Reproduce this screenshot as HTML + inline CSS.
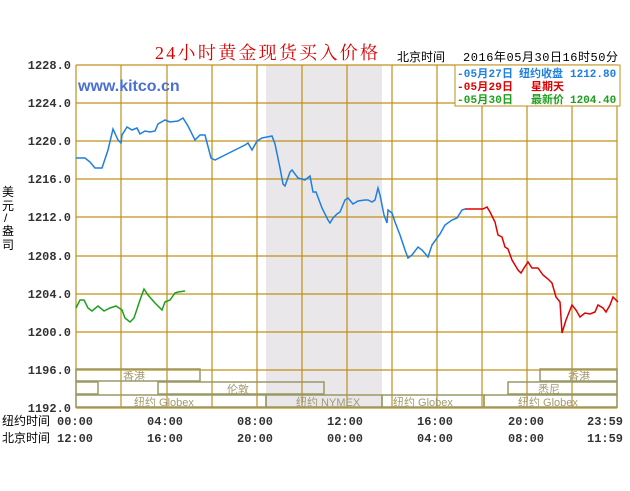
<!DOCTYPE html>
<html><head><meta charset="utf-8"><style>
body{margin:0;background:#fff;}
svg text{font-family:"Liberation Mono","Noto Sans CJK SC",monospace;}
svg text.s{font-family:"Liberation Sans","Noto Sans CJK SC",sans-serif;}
svg text.r{font-family:"Liberation Serif","Noto Serif CJK SC",serif;}
</style></head><body>
<svg width="630" height="486" xmlns="http://www.w3.org/2000/svg">
<rect width="630" height="486" fill="#fff"/>
<rect x="266" y="65" width="116" height="343" fill="#e9e7ea"/>
<g stroke="#c0901a" stroke-width="1.2">
<line x1="76" y1="65" x2="617" y2="65"/><line x1="76" y1="103" x2="617" y2="103"/><line x1="76" y1="141" x2="617" y2="141"/><line x1="76" y1="179" x2="617" y2="179"/><line x1="76" y1="217" x2="617" y2="217"/><line x1="76" y1="256" x2="617" y2="256"/><line x1="76" y1="294" x2="617" y2="294"/><line x1="76" y1="332" x2="617" y2="332"/><line x1="76" y1="370" x2="617" y2="370"/><line x1="76" y1="408" x2="617" y2="408"/>
<line x1="76" y1="65" x2="76" y2="408"/><line x1="121" y1="65" x2="121" y2="408"/><line x1="167" y1="65" x2="167" y2="408"/><line x1="212" y1="65" x2="212" y2="408"/><line x1="257" y1="65" x2="257" y2="408"/><line x1="302" y1="65" x2="302" y2="408"/><line x1="347" y1="65" x2="347" y2="408"/><line x1="392" y1="65" x2="392" y2="408"/><line x1="437" y1="65" x2="437" y2="408"/><line x1="482" y1="65" x2="482" y2="408"/><line x1="527" y1="65" x2="527" y2="408"/><line x1="572" y1="65" x2="572" y2="408"/><line x1="617" y1="65" x2="617" y2="408"/>
</g>
<g fill="none" stroke="#999966" stroke-width="1.5">
<rect x="76" y="369" width="124" height="12"/>
<rect x="76" y="382" width="22" height="12"/>
<rect x="158" y="382" width="166" height="12"/>
<rect x="76" y="395" width="190" height="12"/>
<rect x="266" y="395" width="116" height="12"/>
<rect x="382" y="395" width="102" height="12"/>
<rect x="484" y="395" width="133" height="12"/>
<rect x="508" y="382" width="109" height="12"/>
<rect x="540" y="369" width="77" height="12"/>
</g>
<g font-size="11" fill="#a09a70">
<text class="s" x="123" y="380">香港</text><text class="s" x="227" y="393">伦敦</text><text class="s" x="134" y="406">纽约 Globex</text><text class="s" x="296" y="406">纽约 NYMEX</text><text class="s" x="393" y="406">纽约 Globex</text><text class="s" x="538" y="393">悉尼</text><text class="s" x="568" y="380">香港</text><text class="s" x="518" y="406">纽约 Globex</text>
</g>
<text class="s" x="78" y="91" font-weight="bold" font-size="16" fill="#4a6fd6">www.kitco.cn</text>
<polyline fill="none" stroke="#1e7fe0" stroke-width="1.5" points="76,158 85,158 90,162 95,168 102,168 108,150 113,129 118,140 121,143 122,135 127,127 132,130 137,128 140,134 145,131 150,132 155,131 158,124 165,120 170,122 178,121 183,118 188,126 195,140 200,135 205,135 211,158 215,160 225,155 235,150 245,145 248,143 252,150 257,141 262,138 267,137 272,136 275,144 280,168 283,184 285,186 290,172 292,170 298,178 305,180 310,176 313,192 316,192 322,208 328,220 330,223 333,218 337,214 340,212 345,200 348,198 353,204 358,201 365,200 368,200 372,202 375,200 378,188 380,195 384,215 387,223 388,210 392,213 395,222 400,235 405,250 408,258 412,255 418,247 422,250 428,257 432,245 440,234 445,225 452,220 457,218 462,210 465,209"/>
<polyline fill="none" stroke="#e00000" stroke-width="1.5" points="465,209 483,209 487,207 490,212 495,222 498,235 502,237 505,247 508,249 512,260 518,270 521,273 524,268 528,262 532,268 538,268 543,275 548,279 552,283 556,297 560,302 562,333 566,320 572,305 576,310 580,317 585,313 590,314 595,312 598,305 603,308 606,312 610,305 613,297 618,302"/>
<polyline fill="none" stroke="#1ea01e" stroke-width="1.5" points="76,308 80,300 84,300 88,308 92,311 98,306 104,311 110,308 116,306 122,310 125,318 130,322 134,318 140,300 144,289 148,295 155,303 162,310 165,302 170,300 175,293 178,292 185,291"/>
<g font-size="12" font-weight="bold" fill="#333" text-anchor="end">
<text x="71" y="69">1228.0</text><text x="71" y="107">1224.0</text><text x="71" y="145">1220.0</text><text x="71" y="183">1216.0</text><text x="71" y="221">1212.0</text><text x="71" y="260">1208.0</text><text x="71" y="298">1204.0</text><text x="71" y="336">1200.0</text><text x="71" y="374">1196.0</text><text x="71" y="412">1192.0</text>
</g>
<g font-size="12" fill="#000">
<text class="s" x="2" y="196">美</text><text class="s" x="2" y="210">元</text><text class="s" x="4" y="222">/</text><text class="s" x="2" y="235">盎</text><text class="s" x="2" y="249">司</text>
<text class="s" x="2" y="425">纽约时间</text><text class="s" x="2" y="442">北京时间</text>
<text class="s" x="397" y="61">北京时间</text>
</g>
<g font-size="12" font-weight="bold" fill="#333">
<text x="57" y="425">00:00</text><text x="147" y="425">04:00</text><text x="237" y="425">08:00</text><text x="327" y="425">12:00</text><text x="417" y="425">16:00</text><text x="508" y="425">20:00</text><text x="587" y="425">23:59</text>
<text x="57" y="442">12:00</text><text x="147" y="442">16:00</text><text x="237" y="442">20:00</text><text x="327" y="442">00:00</text><text x="417" y="442">04:00</text><text x="508" y="442">08:00</text><text x="587" y="442">11:59</text>
</g>
<text class="r" x="155" y="59" font-size="18" fill="#e00000" textLength="223">24小时黄金现货买入价格</text>
<text x="463" y="61" font-size="12" fill="#000" textLength="155">2016年05月30日16时50分</text>
<rect x="455" y="65" width="165" height="41" fill="#fff" stroke="#c0901a"/>
<g font-size="11" font-weight="bold">
<text x="457" y="77" fill="#1e7fe0" textLength="56">-05月27日</text><text class="s" x="519" y="77" fill="#1e7fe0">纽约收盘</text><text x="570" y="77" fill="#1e7fe0">1212.80</text>
<text x="457" y="90" fill="#e00000" textLength="56">-05月29日</text><text class="s" x="531" y="90" fill="#e00000">星期天</text>
<text x="457" y="103" fill="#1ea01e" textLength="56">-05月30日</text><text class="s" x="531" y="103" fill="#1ea01e">最新价</text><text x="570" y="103" fill="#1ea01e">1204.40</text>
</g>
</svg>
</body></html>
